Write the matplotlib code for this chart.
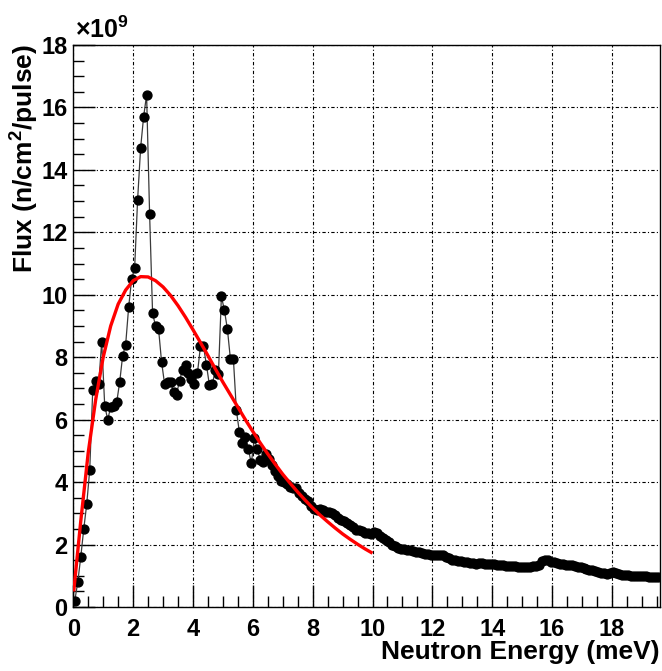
import matplotlib
matplotlib.use("Agg")
import matplotlib.pyplot as plt
import numpy as np
from matplotlib.ticker import MultipleLocator

plt.rcParams["font.family"] = ["Liberation Sans", "DejaVu Sans"]
plt.rcParams["mathtext.fontset"] = "custom"
plt.rcParams["mathtext.bf"] = "Liberation Sans:bold"
plt.rcParams["mathtext.rm"] = "Liberation Sans"

# measured flux, bins of 0.1 meV starting at 0.05 meV (units of 1e9 n/cm2/pulse)
energy = np.round(np.arange(0.05, 19.6, 0.1), 2)
flux = [
    0.2, 0.8, 1.6, 2.5, 3.3, 4.4, 6.95, 7.25, 7.15, 8.5,
    6.45, 6.0, 6.4, 6.45, 6.55, 7.2, 8.05, 8.4, 9.6, 10.5,
    10.85, 13.05, 14.7, 15.7, 16.4, 12.6, 9.4, 9.0, 8.9, 7.85,
    7.15, 7.2, 7.2, 6.9, 6.8, 7.25, 7.6, 7.75, 7.5, 7.3,
    7.15, 7.5, 8.35, 8.35, 7.75, 7.1, 7.15, 7.6, 7.45, 9.95,
    9.5, 8.9, 7.95, 7.95, 6.3, 5.6, 5.25, 5.45, 5.05, 4.6,
    5.4, 5.05, 4.7, 4.65, 4.9, 4.75, 4.55, 4.35, 4.2, 4.05,
    4.0, 3.95, 3.85, 3.8, 3.8, 3.65, 3.55, 3.45, 3.4, 3.25,
    3.15, 3.1, 3.15, 3.1, 3.05, 3.05, 3.0, 2.95, 2.85, 2.8,
    2.75, 2.7, 2.62, 2.55, 2.48, 2.45, 2.42, 2.38, 2.36, 2.34,
    2.4, 2.36, 2.28, 2.2, 2.14, 2.07, 2.0, 1.95, 1.9, 1.87,
    1.85, 1.83, 1.81, 1.79, 1.77, 1.75, 1.72, 1.70, 1.69, 1.67,
    1.66, 1.67, 1.67, 1.65, 1.60, 1.56, 1.52, 1.50, 1.48, 1.46,
    1.45, 1.43, 1.42, 1.40, 1.38, 1.40, 1.40, 1.39, 1.38, 1.38,
    1.37, 1.35, 1.34, 1.33, 1.32, 1.31, 1.30, 1.30, 1.29, 1.28,
    1.29, 1.28, 1.29, 1.30, 1.30, 1.34, 1.47, 1.52, 1.50, 1.45,
    1.43, 1.41, 1.39, 1.37, 1.35, 1.33, 1.33, 1.30, 1.28, 1.27,
    1.25, 1.22, 1.20, 1.17, 1.15, 1.12, 1.10, 1.08, 1.06, 1.08,
    1.12, 1.10, 1.06, 1.04, 1.02, 1.01, 1.00, 1.00, 1.00, 0.99,
    0.99, 0.98, 0.97, 0.97, 0.96, 0.95,
]

# fitted curve (red)
fit_energy = [0.02, 0.25, 0.5, 0.75, 1.0, 1.25, 1.5, 1.75, 2.0, 2.25, 2.5,
              2.75, 3.0, 3.25, 3.5, 3.75, 4.0, 4.25, 4.5, 4.75, 5.0, 5.25,
              5.5, 5.75, 6.0, 6.25, 6.5, 6.75, 7.0, 7.25, 7.5, 7.75, 8.0,
              8.25, 8.5, 8.75, 9.0, 9.25, 9.5, 9.75, 9.95]
fit_flux = [0.55, 2.75, 4.95, 6.65, 8.0, 9.0, 9.7, 10.15, 10.45, 10.58, 10.57,
            10.45, 10.25, 9.98, 9.65, 9.28, 8.88, 8.47, 8.05, 7.62, 7.2, 6.8,
            6.4, 6.0, 5.62, 5.25, 4.9, 4.57, 4.25, 3.96, 3.68, 3.42, 3.17,
            2.94, 2.73, 2.53, 2.34, 2.17, 2.01, 1.86, 1.75]

fig = plt.figure(figsize=(6.62, 6.71), dpi=100)
ax = fig.add_axes([0.1107, 0.0954, 0.886, 0.8376])

ax.plot(energy, flux, color="#3a3a3a", lw=0.9, marker="o", ms=6.4,
        mfc="black", mec="black", zorder=3)
ax.plot(fit_energy, fit_flux, color="red", lw=2.4, zorder=4)

ax.set_xlim(0, 19.6)
ax.set_ylim(0, 18)
ax.xaxis.set_major_locator(MultipleLocator(2))
ax.xaxis.set_minor_locator(MultipleLocator(0.5))
ax.yaxis.set_major_locator(MultipleLocator(2))
ax.yaxis.set_minor_locator(MultipleLocator(0.5))

ax.grid(True, which="major", color="black", lw=0.8, linestyle=(0, (3, 2, 1, 2)))
ax.set_axisbelow(True)

ax.tick_params(which="both", direction="in", top=False, right=False,
               labelsize=17, width=1.0)
ax.tick_params(which="major", length=16)
ax.tick_params(which="minor", length=8)
ax.tick_params(axis="x", pad=8)
ax.tick_params(axis="y", pad=4)
for lab in ax.get_xticklabels() + ax.get_yticklabels():
    lab.set_fontweight("bold")
for sp in ax.spines.values():
    sp.set_linewidth(1.0)

fig.text(24 / 662, 0.934, r"Flux (n/cm$^{\mathbf{2}}$/pulse)", rotation=90,
         ha="center", va="top", fontsize=19, fontweight="bold")
fig.text(0.997, 1 - 652 / 671, "Neutron Energy (meV)", ha="right",
         va="center", fontsize=19, fontweight="bold")
fig.text(75 / 662, 1 - 38 / 671, r"×10$^{\mathbf{9}}$", ha="left",
         va="baseline", fontsize=18, fontweight="bold")

fig.savefig("out.png", dpi=100)
